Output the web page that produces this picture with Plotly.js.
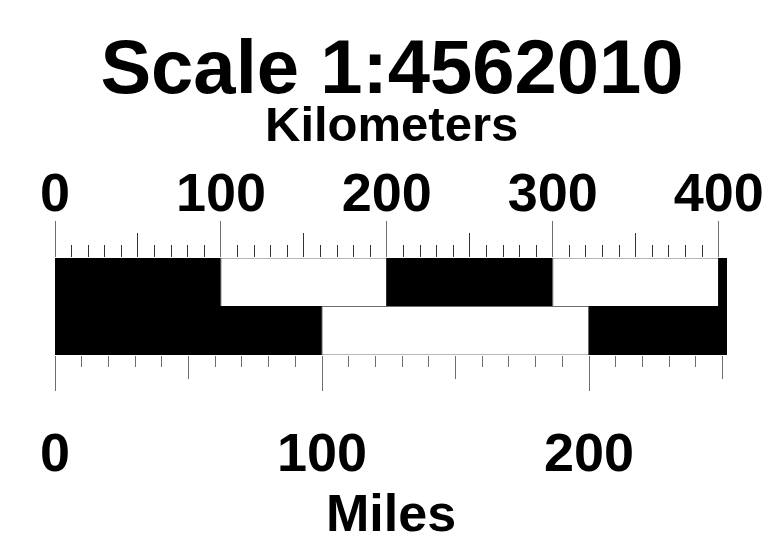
<!DOCTYPE html>
<html>
<head>
<meta charset="utf-8">
<script src="https://cdn.plot.ly/plotly-3.0.1.min.js"></script>
<style>html,body{margin:0;padding:0;background:#fff;}#chart{width:784px;height:540px;}</style>
</head>
<body>
<div id="chart"></div>
<script>
// ---- data ----
const titleText = 'Scale 1:4562010';
const kmLabel = 'Kilometers';
const mileLabel = 'Miles';
const kmMax = 405;
const kmPerMile = 1.609344;
const kmTicks = [0, 100, 200, 300, 400];
const kmMidTicks = [50, 150, 250, 350];
const kmMinorStep = 10;
const mileTicks = [0, 100, 200];
const mileMidTicks = [50, 150, 250];
const mileMinorStep = 10;
const kmSegStart = [0, 100, 200, 300, 400];
const kmSegLen = [100, 100, 100, 100, 5];
const kmSegFill = ['black', 'white', 'black', 'white', 'black'];
const mileSegStart = [0, 100, 200];
const mileSegLen = [100, 100, kmMax / kmPerMile - 200];
const mileSegFill = ['black', 'white', 'black'];

const FONT = 'Liberation Sans, Arial, sans-serif';
const grey = '#6e6e6e';
const edge = c => c === 'white' ? grey : 'black';

const traces = [
  {
    type: 'bar', orientation: 'h', xaxis: 'x', yaxis: 'y',
    y: kmSegStart.map(() => 1.5), x: kmSegLen, base: kmSegStart, width: 1,
    marker: {color: kmSegFill, line: {color: kmSegFill.map(edge), width: 1}},
    hoverinfo: 'skip', showlegend: false
  },
  {
    type: 'bar', orientation: 'h', xaxis: 'x2', yaxis: 'y',
    y: mileSegStart.map(() => 0.5), x: mileSegLen, base: mileSegStart, width: 1,
    marker: {color: mileSegFill, line: {color: mileSegFill.map(edge), width: 1}},
    hoverinfo: 'skip', showlegend: false
  },
  // empty traces so the mid-tick axes get drawn
  {type: 'scatter', mode: 'markers', x: [], y: [], xaxis: 'x3', yaxis: 'y', hoverinfo: 'skip', showlegend: false},
  {type: 'scatter', mode: 'markers', x: [], y: [], xaxis: 'x4', yaxis: 'y', hoverinfo: 'skip', showlegend: false}
];

const mileMax = kmMax / kmPerMile;
const tickFont = {family: FONT, size: 54, color: 'black', weight: 'bold'};

const layout = {
  width: 784, height: 540,
  margin: {l: 55, r: 57, t: 258, b: 185, pad: 0},
  paper_bgcolor: 'white', plot_bgcolor: 'white',
  barmode: 'overlay',
  title: {
    text: titleText, xref: 'container', x: 0.5, xanchor: 'center',
    yref: 'container', y: 1 - 66 / 540, yanchor: 'middle',
    font: {family: FONT, size: 76, color: 'black', weight: 'bold'}
  },
  xaxis: {
    range: [0, kmMax], side: 'top', anchor: 'y',
    tickmode: 'array', tickvals: kmTicks, ticktext: kmTicks.map(String),
    ticks: 'outside', ticklen: 36, tickwidth: 1, tickcolor: grey,
    tickfont: tickFont, ticklabelstandoff: -12,
    minor: {dtick: kmMinorStep, tick0: 0, ticks: 'outside', ticklen: 12, tickwidth: 1, tickcolor: '#333', showgrid: false},
    showgrid: false, zeroline: false, showline: false, fixedrange: true
  },
  xaxis3: {
    range: [0, kmMax], side: 'top', anchor: 'y', overlaying: 'x',
    tickmode: 'array', tickvals: kmMidTicks, showticklabels: false,
    ticks: 'outside', ticklen: 24, tickwidth: 1, tickcolor: '#333',
    showgrid: false, zeroline: false, showline: false, fixedrange: true
  },
  xaxis2: {
    range: [0, mileMax], side: 'bottom', anchor: 'y', overlaying: 'x',
    tickmode: 'array', tickvals: mileTicks, ticktext: mileTicks.map(String),
    ticks: 'outside', ticklen: 35, tickwidth: 1, tickcolor: grey,
    tickfont: tickFont, ticklabelstandoff: 15,
    minor: {dtick: mileMinorStep, tick0: 0, ticks: 'outside', ticklen: 11, tickwidth: 1, tickcolor: grey, showgrid: false},
    showgrid: false, zeroline: false, showline: false, fixedrange: true
  },
  xaxis4: {
    range: [0, mileMax], side: 'bottom', anchor: 'y', overlaying: 'x',
    tickmode: 'array', tickvals: mileMidTicks, showticklabels: false,
    ticks: 'outside', ticklen: 23, tickwidth: 1, tickcolor: grey,
    showgrid: false, zeroline: false, showline: false, fixedrange: true
  },
  yaxis: {
    range: [0, 2], visible: false, fixedrange: true
  },
  annotations: [
    {text: kmLabel, xref: 'paper', yref: 'paper', x: 0.5, y: (355 - 124) / 97, xanchor: 'center', yanchor: 'middle',
     showarrow: false, font: {family: FONT, size: 49, color: 'black', weight: 'bold'}},
    {text: mileLabel, xref: 'paper', yref: 'paper', x: 0.5, y: (355 - 513) / 97, xanchor: 'center', yanchor: 'middle',
     showarrow: false, font: {family: FONT, size: 52, color: 'black', weight: 'bold'}}
  ]
};

Plotly.newPlot('chart', traces, layout, {displayModeBar: false, staticPlot: true});
</script>
</body>
</html>
